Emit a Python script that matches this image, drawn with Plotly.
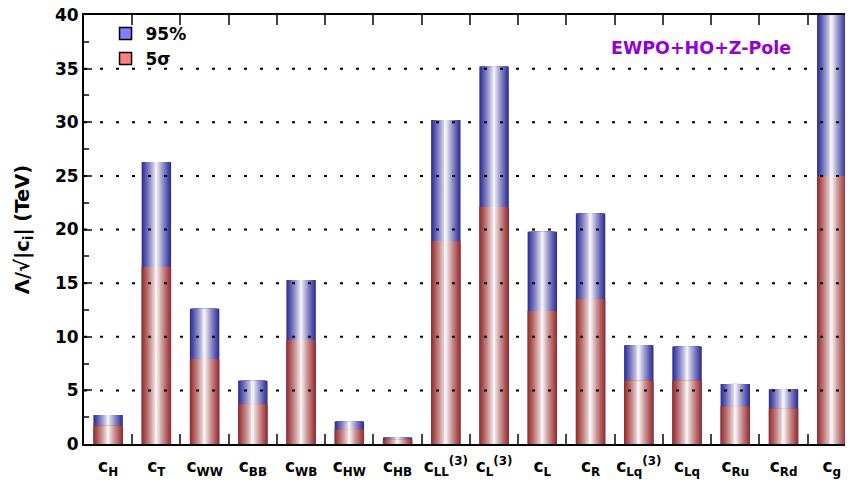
import plotly.graph_objects as go

categories = ["c<sub>H</sub>", "c<sub>T</sub>", "c<sub>WW</sub>", "c<sub>BB</sub>", "c<sub>WB</sub>",
              "c<sub>HW</sub>", "c<sub>HB</sub>", "c<sub>LL</sub><sup>(3)</sup>", "c<sub>L</sub><sup>(3)</sup>",
              "c<sub>L</sub>", "c<sub>R</sub>", "c<sub>Lq</sub><sup>(3)</sup>", "c<sub>Lq</sub>",
              "c<sub>Ru</sub>", "c<sub>Rd</sub>", "c<sub>g</sub>"]
limit_95 = [2.7, 26.3, 12.6, 5.9, 15.3, 2.1, 0.6, 30.2, 35.2, 19.8, 21.5, 9.2, 9.1, 5.6, 5.1, 46.0]
limit_5sigma = [1.7, 16.5, 7.9, 3.7, 9.7, 1.35, 0.4, 18.9, 22.1, 12.4, 13.5, 5.9, 5.9, 3.5, 3.3, 25.0]
ytick_values = [0, 5, 10, 15, 20, 25, 30, 35, 40]
grid_values = [5, 10, 15, 20, 25, 30, 35]

BAR_W = 0.61
N_LAYERS = 16


def mix(edge, d):
    white = (252, 250, 252)
    return "rgb(%d,%d,%d)" % tuple(round(w + (e - w) * d) for e, w in zip(edge, white))


fig = go.Figure()


def gradient_bars(values, edge_rgb):
    for k in range(N_LAYERS):
        frac = 1 - k / N_LAYERS
        d = 1 - (k + 0.5) / N_LAYERS
        fig.add_trace(go.Bar(
            x=categories, y=values, width=BAR_W * frac,
            marker=dict(color=mix(edge_rgb, d ** 0.85), line=dict(width=0)),
            showlegend=False, hoverinfo="skip"))


gradient_bars(limit_95, (40, 40, 150))
gradient_bars(limit_5sigma, (150, 40, 40))

# legend entries
fig.add_trace(go.Bar(x=categories, y=[None] * len(categories), name="95%",
                     marker=dict(color="#8080ff", line=dict(color="black", width=1.5))))
fig.add_trace(go.Bar(x=categories, y=[None] * len(categories), name="5σ",
                     marker=dict(color="#ff8080", line=dict(color="black", width=1.5))))

for g in grid_values:
    fig.add_shape(type="line", xref="paper", x0=0, x1=1, yref="y", y0=g, y1=g,
                  line=dict(color="black", width=2, dash="3px,13px"), layer="above")

fig.add_annotation(text="EWPO+HO+Z-Pole", xref="paper", yref="paper", x=0.802, y=0.923,
                   xanchor="center", yanchor="middle", showarrow=False,
                   font=dict(family="DejaVu Sans", size=17.5, color="#9400d3", weight="bold"))

# page body adds an 8px offset; figure sized so the plot area lands where the reference has it
fig.update_layout(
    barmode="overlay",
    width=845, height=476,
    margin=dict(l=76, r=0, t=7, b=40),
    plot_bgcolor="white", paper_bgcolor="white",
    font=dict(family="DejaVu Sans", color="black"),
    legend=dict(x=0.028, y=0.998, xanchor="left", yanchor="top", bgcolor="rgba(0,0,0,0)",
                font=dict(family="DejaVu Sans", size=17, weight="bold"), tracegroupgap=2),
    xaxis=dict(type="category", range=[-0.5, 15.44], tickson="boundaries", ticks="inside",
               ticklen=10, tickwidth=2, showline=True, linecolor="black", linewidth=2,
               mirror="ticks", showgrid=False, tickangle=0, automargin=False,
               ticklabeloverflow="allow", ticklabelstandoff=6,
               tickfont=dict(family="DejaVu Sans", size=17, weight="bold")),
    yaxis=dict(range=[0, 40], tickvals=ytick_values, ticks="inside", ticklen=8, tickwidth=2,
               showline=True, linecolor="black", linewidth=2, mirror="ticks", showgrid=False,
               zeroline=False, automargin=False, ticklabeloverflow="allow",
               minor=dict(ticks="inside", ticklen=5, tickwidth=2, dtick=2.5, tick0=0, showgrid=False),
               tickfont=dict(family="DejaVu Sans", size=17, weight="bold"),
               title=dict(text="Λ/√|c<sub>i</sub>| (TeV)", standoff=20,
                          font=dict(family="DejaVu Sans", size=19.5, weight="bold"))),
)

fig.write_html("out.html")
